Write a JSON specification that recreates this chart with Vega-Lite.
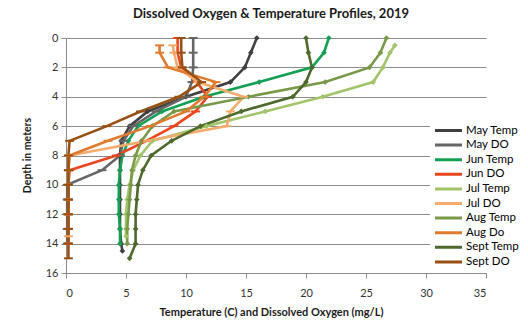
{
  "$schema": "https://vega.github.io/schema/vega-lite/v6.json",
  "width": 420,
  "height": 235,
  "autosize": {"type": "none"},
  "padding": {"left": 66, "top": 38, "right": 42, "bottom": 47},
  "background": "white",
  "title": {"text": "Dissolved Oxygen & Temperature Profiles, 2019", "font": "Lato", "fontSize": 13, "fontWeight": "bold", "color": "#1a1a1a", "anchor": "middle", "offset": 11, "dx": -5},
  "config": {
    "view": {"stroke": null},
    "axis": {"labelFont": "Lato", "titleFont": "Lato", "labelColor": "#333333", "titleColor": "#1a1a1a", "labelFontSize": 11, "domainColor": "#8c8c8c", "tickColor": "#8c8c8c", "gridColor": "#8c8c8c", "gridOpacity": 1, "tickSize": 5}
  },
  "data": {"values": [
    {"series":"May Temp","kind":"Temp","depth":0,"value":15.9},{"series":"May Temp","kind":"Temp","depth":1,"value":15.4},{"series":"May Temp","kind":"Temp","depth":2,"value":14.9},{"series":"May Temp","kind":"Temp","depth":3,"value":13.7},{"series":"May Temp","kind":"Temp","depth":4,"value":10.0},{"series":"May Temp","kind":"Temp","depth":5,"value":6.8},{"series":"May Temp","kind":"Temp","depth":6,"value":5.3},{"series":"May Temp","kind":"Temp","depth":7,"value":4.6},{"series":"May Temp","kind":"Temp","depth":8,"value":4.5},{"series":"May Temp","kind":"Temp","depth":9,"value":4.5},{"series":"May Temp","kind":"Temp","depth":10,"value":4.5},{"series":"May Temp","kind":"Temp","depth":11,"value":4.5},{"series":"May Temp","kind":"Temp","depth":12,"value":4.5},{"series":"May Temp","kind":"Temp","depth":13,"value":4.5},{"series":"May Temp","kind":"Temp","depth":14,"value":4.6},{"series":"May Temp","kind":"Temp","depth":14.5,"value":4.7},
    {"series":"May DO","kind":"DO","depth":0,"value":10.6},{"series":"May DO","kind":"DO","depth":1,"value":10.6},{"series":"May DO","kind":"DO","depth":2,"value":10.6},{"series":"May DO","kind":"DO","depth":3,"value":10.5},{"series":"May DO","kind":"DO","depth":4,"value":10.0},{"series":"May DO","kind":"DO","depth":5,"value":7.5},{"series":"May DO","kind":"DO","depth":6,"value":5.6},{"series":"May DO","kind":"DO","depth":7,"value":4.8},{"series":"May DO","kind":"DO","depth":8,"value":4.5},{"series":"May DO","kind":"DO","depth":9,"value":3.0},{"series":"May DO","kind":"DO","depth":10,"value":0.1},{"series":"May DO","kind":"DO","depth":11,"value":0.1},{"series":"May DO","kind":"DO","depth":12,"value":0.1},{"series":"May DO","kind":"DO","depth":13,"value":0.1},{"series":"May DO","kind":"DO","depth":14,"value":0.1},
    {"series":"Jun Temp","kind":"Temp","depth":0,"value":21.9},{"series":"Jun Temp","kind":"Temp","depth":1,"value":21.5},{"series":"Jun Temp","kind":"Temp","depth":2,"value":20.5},{"series":"Jun Temp","kind":"Temp","depth":3,"value":16.1},{"series":"Jun Temp","kind":"Temp","depth":4,"value":11.5},{"series":"Jun Temp","kind":"Temp","depth":5,"value":8.0},{"series":"Jun Temp","kind":"Temp","depth":6,"value":6.0},{"series":"Jun Temp","kind":"Temp","depth":7,"value":5.2},{"series":"Jun Temp","kind":"Temp","depth":8,"value":4.7},{"series":"Jun Temp","kind":"Temp","depth":9,"value":4.5},{"series":"Jun Temp","kind":"Temp","depth":10,"value":4.4},{"series":"Jun Temp","kind":"Temp","depth":11,"value":4.4},{"series":"Jun Temp","kind":"Temp","depth":12,"value":4.4},{"series":"Jun Temp","kind":"Temp","depth":13,"value":4.5},{"series":"Jun Temp","kind":"Temp","depth":14,"value":4.5},
    {"series":"Jun DO","kind":"DO","depth":0,"value":9.3},{"series":"Jun DO","kind":"DO","depth":1,"value":9.3},{"series":"Jun DO","kind":"DO","depth":2,"value":9.6},{"series":"Jun DO","kind":"DO","depth":3,"value":10.9},{"series":"Jun DO","kind":"DO","depth":4,"value":11.8},{"series":"Jun DO","kind":"DO","depth":5,"value":10.8},{"series":"Jun DO","kind":"DO","depth":6,"value":9.0},{"series":"Jun DO","kind":"DO","depth":7,"value":6.7},{"series":"Jun DO","kind":"DO","depth":8,"value":4.2},{"series":"Jun DO","kind":"DO","depth":9,"value":0.3},{"series":"Jun DO","kind":"DO","depth":10,"value":0.2},{"series":"Jun DO","kind":"DO","depth":11,"value":0.2},{"series":"Jun DO","kind":"DO","depth":12,"value":0.2},{"series":"Jun DO","kind":"DO","depth":13,"value":0.2},{"series":"Jun DO","kind":"DO","depth":14,"value":0.2},
    {"series":"Jul Temp","kind":"Temp","depth":0.5,"value":27.4},{"series":"Jul Temp","kind":"Temp","depth":1,"value":27.0},{"series":"Jul Temp","kind":"Temp","depth":2,"value":26.4},{"series":"Jul Temp","kind":"Temp","depth":3,"value":25.6},{"series":"Jul Temp","kind":"Temp","depth":4,"value":21.4},{"series":"Jul Temp","kind":"Temp","depth":5,"value":16.6},{"series":"Jul Temp","kind":"Temp","depth":6,"value":11.7},{"series":"Jul Temp","kind":"Temp","depth":7,"value":7.2},{"series":"Jul Temp","kind":"Temp","depth":8,"value":6.2},{"series":"Jul Temp","kind":"Temp","depth":9,"value":5.6},{"series":"Jul Temp","kind":"Temp","depth":10,"value":5.3},{"series":"Jul Temp","kind":"Temp","depth":11,"value":5.1},{"series":"Jul Temp","kind":"Temp","depth":12,"value":5.0},{"series":"Jul Temp","kind":"Temp","depth":13,"value":5.0},{"series":"Jul Temp","kind":"Temp","depth":13.5,"value":5.0},
    {"series":"Jul DO","kind":"DO","depth":0.5,"value":8.9},{"series":"Jul DO","kind":"DO","depth":1,"value":9.0},{"series":"Jul DO","kind":"DO","depth":2,"value":9.3},{"series":"Jul DO","kind":"DO","depth":3,"value":11.0},{"series":"Jul DO","kind":"DO","depth":4,"value":14.8},{"series":"Jul DO","kind":"DO","depth":5,"value":13.7},{"series":"Jul DO","kind":"DO","depth":6,"value":13.4},{"series":"Jul DO","kind":"DO","depth":7,"value":6.8},{"series":"Jul DO","kind":"DO","depth":8,"value":0.3},{"series":"Jul DO","kind":"DO","depth":9,"value":0.2},{"series":"Jul DO","kind":"DO","depth":10,"value":0.2},{"series":"Jul DO","kind":"DO","depth":11,"value":0.2},{"series":"Jul DO","kind":"DO","depth":12,"value":0.2},{"series":"Jul DO","kind":"DO","depth":13,"value":0.2},{"series":"Jul DO","kind":"DO","depth":13.5,"value":0.2},
    {"series":"Aug Temp","kind":"Temp","depth":0,"value":26.7},{"series":"Aug Temp","kind":"Temp","depth":1,"value":26.2},{"series":"Aug Temp","kind":"Temp","depth":2,"value":25.3},{"series":"Aug Temp","kind":"Temp","depth":3,"value":21.6},{"series":"Aug Temp","kind":"Temp","depth":4,"value":15.2},{"series":"Aug Temp","kind":"Temp","depth":5,"value":9.0},{"series":"Aug Temp","kind":"Temp","depth":6,"value":7.2},{"series":"Aug Temp","kind":"Temp","depth":7,"value":6.3},{"series":"Aug Temp","kind":"Temp","depth":8,"value":5.8},{"series":"Aug Temp","kind":"Temp","depth":9,"value":5.5},{"series":"Aug Temp","kind":"Temp","depth":10,"value":5.4},{"series":"Aug Temp","kind":"Temp","depth":11,"value":5.3},{"series":"Aug Temp","kind":"Temp","depth":12,"value":5.2},{"series":"Aug Temp","kind":"Temp","depth":13,"value":5.1},{"series":"Aug Temp","kind":"Temp","depth":14,"value":5.1},
    {"series":"Aug Do","kind":"DO","depth":0.5,"value":7.8},{"series":"Aug Do","kind":"DO","depth":1,"value":7.8},{"series":"Aug Do","kind":"DO","depth":2,"value":8.5},{"series":"Aug Do","kind":"DO","depth":3,"value":12.5},{"series":"Aug Do","kind":"DO","depth":4,"value":11.5},{"series":"Aug Do","kind":"DO","depth":5,"value":10.0},{"series":"Aug Do","kind":"DO","depth":6,"value":7.0},{"series":"Aug Do","kind":"DO","depth":7,"value":3.5},{"series":"Aug Do","kind":"DO","depth":8,"value":0.3},{"series":"Aug Do","kind":"DO","depth":9,"value":0.2},{"series":"Aug Do","kind":"DO","depth":10,"value":0.2},{"series":"Aug Do","kind":"DO","depth":11,"value":0.2},{"series":"Aug Do","kind":"DO","depth":12,"value":0.2},{"series":"Aug Do","kind":"DO","depth":13,"value":0.2},{"series":"Aug Do","kind":"DO","depth":14,"value":0.2},
    {"series":"Sept Temp","kind":"Temp","depth":0,"value":20.0},{"series":"Sept Temp","kind":"Temp","depth":1,"value":20.2},{"series":"Sept Temp","kind":"Temp","depth":2,"value":20.5},{"series":"Sept Temp","kind":"Temp","depth":3,"value":20.0},{"series":"Sept Temp","kind":"Temp","depth":4,"value":18.9},{"series":"Sept Temp","kind":"Temp","depth":5,"value":14.6},{"series":"Sept Temp","kind":"Temp","depth":6,"value":11.2},{"series":"Sept Temp","kind":"Temp","depth":7,"value":8.8},{"series":"Sept Temp","kind":"Temp","depth":8,"value":7.1},{"series":"Sept Temp","kind":"Temp","depth":9,"value":6.4},{"series":"Sept Temp","kind":"Temp","depth":10,"value":6.0},{"series":"Sept Temp","kind":"Temp","depth":11,"value":5.9},{"series":"Sept Temp","kind":"Temp","depth":12,"value":5.8},{"series":"Sept Temp","kind":"Temp","depth":13,"value":5.8},{"series":"Sept Temp","kind":"Temp","depth":14,"value":5.8},{"series":"Sept Temp","kind":"Temp","depth":15,"value":5.3},
    {"series":"Sept DO","kind":"DO","depth":0,"value":9.6},{"series":"Sept DO","kind":"DO","depth":1,"value":9.6},{"series":"Sept DO","kind":"DO","depth":2,"value":9.7},{"series":"Sept DO","kind":"DO","depth":3,"value":11.3},{"series":"Sept DO","kind":"DO","depth":4,"value":9.4},{"series":"Sept DO","kind":"DO","depth":5,"value":6.2},{"series":"Sept DO","kind":"DO","depth":6,"value":3.4},{"series":"Sept DO","kind":"DO","depth":7,"value":0.3},{"series":"Sept DO","kind":"DO","depth":8,"value":0.2},{"series":"Sept DO","kind":"DO","depth":9,"value":0.2},{"series":"Sept DO","kind":"DO","depth":10,"value":0.2},{"series":"Sept DO","kind":"DO","depth":11,"value":0.2},{"series":"Sept DO","kind":"DO","depth":12,"value":0.2},{"series":"Sept DO","kind":"DO","depth":13,"value":0.2},{"series":"Sept DO","kind":"DO","depth":14,"value":0.2},{"series":"Sept DO","kind":"DO","depth":15,"value":0.2}
  ]},
  "encoding": {
    "x": {"field": "value", "type": "quantitative", "scale": {"domain": [0, 35], "nice": false, "zero": false},
      "axis": {"values": [0, 5, 10, 15, 20, 25, 30, 35], "grid": false, "labelPadding": 9, "title": "Temperature (C) and Dissolved Oxygen (mg/L)", "titleFontSize": 11, "titleFontWeight": "bold", "titleY": 33, "titleX": 205}},
    "y": {"field": "depth", "type": "quantitative", "scale": {"domain": [0, 16], "reverse": true, "nice": false, "zero": false},
      "axis": {"values": [0, 2, 4, 6, 8, 10, 12, 14, 16], "grid": true, "labelPadding": 3, "title": "Depth in meters", "titleFontSize": 10.5, "titleFontWeight": "bold", "titleX": -39, "titleY": 117, "titleAngle": -90, "titleAlign": "center", "titleBaseline": "middle"}},
    "color": {"field": "series", "type": "nominal",
      "scale": {"domain": ["May Temp", "May DO", "Jun Temp", "Jun DO", "Jul Temp", "Jul DO", "Aug Temp", "Aug Do", "Sept Temp", "Sept DO"],
        "range": ["#404040", "#666666", "#14a052", "#e8461e", "#a2c46a", "#f4ab6c", "#789a48", "#e27a2e", "#4d6a2c", "#985012"]},
      "legend": {"title": null, "orient": "none", "legendX": 364, "legendY": 84, "fillColor": "white", "padding": 3, "symbolType": "stroke", "symbolStrokeWidth": 3, "symbolSize": 730, "clipHeight": 11, "labelFont": "Lato", "labelFontSize": 11.5, "labelColor": "#000000", "rowPadding": 2.6, "labelOffset": 2}},
    "order": {"field": "depth", "type": "quantitative"}
  },
  "layer": [
    {"mark": {"type": "line", "strokeWidth": 2.6}},
    {"transform": [{"filter": "datum.kind == 'Temp'"}], "mark": {"type": "point", "shape": "diamond", "filled": true, "size": 32, "opacity": 1}},
    {"transform": [{"filter": "datum.kind == 'DO'"}], "mark": {"type": "point", "shape": "stroke", "filled": false, "size": 80, "strokeWidth": 2, "opacity": 1}}
  ]
}
